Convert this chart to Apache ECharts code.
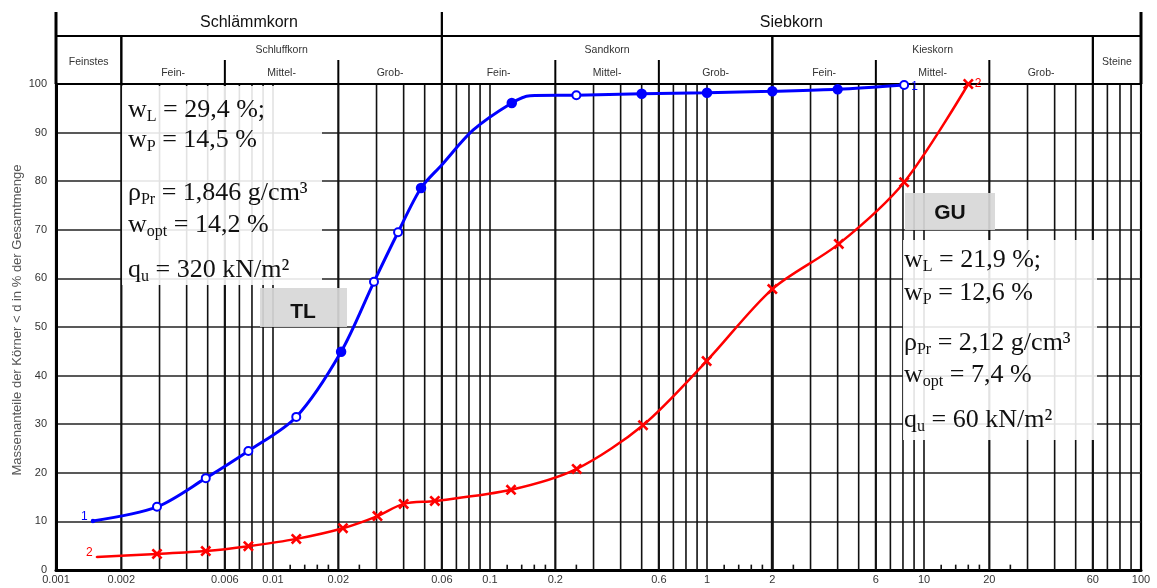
<!DOCTYPE html>
<html><head><meta charset="utf-8">
<script src="https://cdn.jsdelivr.net/npm/echarts@6/dist/echarts.min.js"></script>
<style>html,body{margin:0;padding:0;background:#fff}#c{width:1157px;height:588px}</style>
</head><body><div id="c"></div>
<script>
// ---- data ----
const diameterTL = [0.00148, 0.00292, 0.0049, 0.0077, 0.0128, 0.0206, 0.0292, 0.0377, 0.0481, 0.0598, 0.0835, 0.126, 0.153, 0.25, 0.50, 1.0, 2.0, 4.0, 8.1];
const passingTL  = [10.1, 13.0, 18.9, 24.5, 31.5, 44.9, 59.3, 69.5, 78.6, 83.3, 90.5, 96.1, 97.6, 97.7, 98.0, 98.2, 98.5, 98.9, 99.8];
const measuredTL = [false, true, true, true, true, true, true, true, true, false, false, true, false, true, true, true, true, true, true];

const diameterGU = [0.00154, 0.00292, 0.0049, 0.0077, 0.0128, 0.021, 0.0303, 0.0400, 0.0557, 0.125, 0.251, 0.507, 0.996, 2.0, 4.05, 8.1, 16.0];
const passingGU  = [2.7, 3.3, 3.9, 4.9, 6.4, 8.6, 11.1, 13.6, 14.2, 16.5, 20.8, 29.8, 43.0, 57.8, 67.1, 79.8, 100];
const measuredGU = [false, true, true, true, true, true, true, true, true, true, true, true, true, true, true, true, true];

const xLabelValues = [0.001, 0.002, 0.006, 0.01, 0.02, 0.06, 0.1, 0.2, 0.6, 1, 2, 6, 10, 20, 60, 100];
const xLabelTexts  = ['0.001','0.002','0.006','0.01','0.02','0.06','0.1','0.2','0.6','1','2','6','10','20','60','100'];

const gridDecades = [0.001, 0.01, 0.1, 1, 10];
const gridMultipliers = [2, 3, 4, 5, 6, 7, 8, 9, 10];
const tickDecades = [0.01, 0.1, 1, 10];
const tickMultipliers = [1.2, 1.4, 1.6, 1.8, 2.5];
const classBoundaries = [0.002, 0.006, 0.02, 0.06, 0.2, 0.6, 2, 6, 20, 60];

const headerTopNames = ['Schlämmkorn', 'Siebkorn'];
const headerTopBounds = [[0.001, 0.06], [0.06, 100]];
const headerGroupNames = ['Feinstes', 'Schluffkorn', 'Sandkorn', 'Kieskorn', 'Steine'];
const headerGroupBounds = [[0.001, 0.002], [0.002, 0.06], [0.06, 2], [2, 60], [60, 100]];
const headerSubNames = ['Fein-', 'Mittel-', 'Grob-', 'Fein-', 'Mittel-', 'Grob-', 'Fein-', 'Mittel-', 'Grob-'];
const headerSubBounds = [[0.002, 0.006], [0.006, 0.02], [0.02, 0.06], [0.06, 0.2], [0.2, 0.6], [0.6, 2], [2, 6], [6, 20], [20, 60]];

const yAxisTitle = 'Massenanteile der Körner < d in % der Gesamtmenge';
const paramsTL = ['{m|w}{s|L}{m| = 29,4 %;}', '{m|w}{s|P}{m| = 14,5 %}', '{m|ρ}{s|Pr}{m| = 1,846 g/cm³}', '{m|w}{s|opt}{m| = 14,2 %}', '{m|q}{s|u}{m| = 320 kN/m²}'];
const paramsGU = ['{m|w}{s|L}{m| = 21,9 %;}', '{m|w}{s|P}{m| = 12,6 %}', '{m|ρ}{s|Pr}{m| = 2,12 g/cm³}', '{m|w}{s|opt}{m| = 7,4 %}', '{m|q}{s|u}{m| = 60 kN/m²}'];

// ---- build ----
const chart = echarts.init(document.getElementById('c'), null, {renderer: 'canvas'});
const XMIN = 0.001, XMAX = 100;

// vertical grid lines: [x, yTop, kind]  (kind 0 normal, 1 class boundary, 2 main boundary)
const vLineData = [];
gridDecades.forEach(d => gridMultipliers.forEach(m => {
  const v = +(d * m).toPrecision(6);
  if (v >= XMAX) return;
  const thick = classBoundaries.some(c => Math.abs(c - v) / v < 1e-6);
  vLineData.push([v, 100, v === 2 ? 2 : (thick ? 1 : 0)]);
}));
tickDecades.forEach(d => tickMultipliers.forEach(m => {
  vLineData.push([+(d * m).toPrecision(6), 1.1, 0]);
}));

const crossPath = 'path://M0,1.7 L1.7,0 L5,3.3 L8.3,0 L10,1.7 L6.7,5 L10,8.3 L8.3,10 L5,6.7 L1.7,10 L0,8.3 L3.3,5 Z';
const hollowTL = new Set([1, 2, 3, 4, 6, 7, 13, 18]);

function endLabel(text, color, pos, off) {
  return {show: true, formatter: text, position: pos, distance: 3, offset: off, color: color, fontSize: 12, fontFamily: 'Liberation Sans, Arial, sans-serif'};
}
const tlData = diameterTL.map((d, i) => {
  const item = {value: [d, passingTL[i]]};
  if (!measuredTL[i]) { item.symbol = (i === 0) ? 'circle' : 'none'; item.symbolSize = 2; }
  else if (hollowTL.has(i)) { item.symbol = 'emptyCircle'; item.symbolSize = 8; }
  if (i === 0) item.label = endLabel('1', '#0000ff', 'left', [0, -4]);
  if (i === diameterTL.length - 1) item.label = endLabel('1', '#0000ff', 'right', [-1, 2]);
  return item;
});
const guData = diameterGU.map((d, i) => {
  const item = {value: [d, passingGU[i]]};
  if (!measuredGU[i]) { item.symbol = (i === 0) ? 'circle' : 'none'; item.symbolSize = 2; }
  if (i === 0) item.label = endLabel('2', '#ff0000', 'left', [0, -4]);
  if (i === diameterGU.length - 1) item.label = endLabel('2', '#ff0000', 'right', [-2, 0]);
  return item;
});

function lw(x) { return (x <= XMIN * 1.0001 || x >= XMAX * 0.9999) ? 3 : 2; }
function headerSeries(names, bounds, kind) {
  return {
    type: 'custom', xAxisIndex: 1, yAxisIndex: 1, silent: true, animation: false, clip: false, z: 5,
    data: bounds.map((b, i) => ({value: [b[0], b[1]], name: names[i]})),
    encode: {x: [0, 1]},
    renderItem: function (params, api) {
      const i = params.dataIndex;
      const x1 = api.value(0), x2 = api.value(1);
      const children = [];
      const line = (xa, ya, xb, yb, w) => {
        const p = api.coord([xa, ya]), q = api.coord([xb, yb]);
        children.push({type: 'line', shape: {x1: p[0], y1: p[1], x2: q[0], y2: q[1]}, style: {stroke: '#000', lineWidth: w}});
      };
      const text = (ycoord, s, size, color) => {
        const p = api.coord([Math.sqrt(x1 * x2), ycoord]);
        children.push({type: 'text', x: p[0], y: p[1], style: {text: s, fontSize: size, fill: color, fontFamily: 'Liberation Sans, Arial, sans-serif', align: 'center', verticalAlign: 'middle'}});
      };
      if (kind === 'top') {
        line(x1, 72, x1, 48, lw(x1)); line(x2, 72, x2, 48, lw(x2)); line(x1, 48, x2, 48, 2);
        text(61, names[i], 16, '#111');
      } else if (kind === 'group') {
        line(x1, 48, x1, 0, lw(x1)); line(x2, 48, x2, 0, lw(x2)); line(x1, 0, x2, 0, 2.2);
        const single = (i === 0 || i === names.length - 1);
        text(single ? 22 : 34, names[i], 10.5, '#333');
      } else {
        if (i % 3 !== 0) line(x1, 0, x1, 24, 2);
        text(11, names[i], 10.5, '#333');
      }
      return {type: 'group', children: children};
    }
  };
}

const richStyle = {
  m: {fontFamily: 'Liberation Serif, Times New Roman, serif', fontSize: 26, lineHeight: 30, fill: '#111', color: '#111', verticalAlign: 'middle'},
  s: {fontFamily: 'Liberation Serif, Times New Roman, serif', fontSize: 16, lineHeight: 14, fill: '#111', color: '#111', verticalAlign: 'bottom'}
};
function paramTexts(list, x, ys) {
  return list.map((t, i) => ({type: 'text', x: x, y: ys[i], z: 52, silent: true,
    style: {text: t, rich: richStyle, align: 'left', verticalAlign: 'middle'}}));
}

const option = {
  animation: false,
  backgroundColor: '#fff',
  grid: [
    {left: 56, right: 16, top: 84, bottom: 18, show: true, borderColor: '#000', borderWidth: 2.2, backgroundColor: 'transparent'},
    {left: 56, right: 16, top: 12, height: 72, show: false}
  ],
  xAxis: [
    {type: 'log', logBase: 10, min: XMIN, max: XMAX, gridIndex: 0,
     axisLine: {show: true, lineStyle: {color: '#000', width: 3}}, axisTick: {show: false}, splitLine: {show: false},
     axisLabel: {show: true, customValues: xLabelValues, margin: 4, fontSize: 11, color: '#333', fontFamily: 'Liberation Sans, Arial, sans-serif',
       hideOverlap: false, showMinLabel: true, showMaxLabel: true,
       formatter: function (v) {
         let best = 0, bd = Infinity;
         xLabelValues.forEach((x, k) => { const dd = Math.abs(Math.log10(x) - Math.log10(v)); if (dd < bd) { bd = dd; best = k; } });
         return xLabelTexts[best];
       }}},
    {type: 'log', logBase: 10, min: XMIN, max: XMAX, gridIndex: 1, show: false}
  ],
  yAxis: [
    {type: 'value', min: 0, max: 100, interval: 10, gridIndex: 0,
     axisLine: {show: true, lineStyle: {color: '#000', width: 3}}, axisTick: {show: false},
     axisLabel: {margin: 9, fontSize: 11, color: '#333', fontFamily: 'Liberation Sans, Arial, sans-serif'},
     splitLine: {show: true, lineStyle: {color: '#222', width: 1.6}}},
    {type: 'value', min: 0, max: 72, gridIndex: 1, show: false}
  ],
  series: [
    {type: 'custom', name: 'grid', xAxisIndex: 0, yAxisIndex: 0, silent: true, animation: false, z: 1,
     data: vLineData, encode: {x: 0, y: 1},
     renderItem: function (params, api) {
       const x = api.value(0), top = api.value(1), kind = api.value(2);
       const p = api.coord([x, 0]), q = api.coord([x, top]);
       return {type: 'line', shape: {x1: p[0], y1: p[1], x2: q[0], y2: q[1]},
         style: {stroke: '#111', lineWidth: kind === 2 ? 3 : (kind === 1 ? 2.2 : 1.6)}};
     }},
    headerSeries(headerTopNames, headerTopBounds, 'top'),
    headerSeries(headerGroupNames, headerGroupBounds, 'group'),
    headerSeries(headerSubNames, headerSubBounds, 'sub'),
    {type: 'line', name: 'TL', xAxisIndex: 0, yAxisIndex: 0, data: tlData, smooth: 0.3, z: 60,
     symbol: 'circle', symbolSize: 8, showSymbol: true,
     lineStyle: {color: '#0000ff', width: 3}, itemStyle: {color: '#0000ff', borderColor: '#0000ff', borderWidth: 2.5}},
    {type: 'line', name: 'GU', xAxisIndex: 0, yAxisIndex: 0, data: guData, smooth: 0.3, z: 61,
     symbol: crossPath, symbolSize: 11, showSymbol: true,
     lineStyle: {color: '#ff0000', width: 2.5}, itemStyle: {color: '#ff0000'}}
  ],
  graphic: [
    {type: 'rect', z: 50, silent: true, shape: {x: 122, y: 86, width: 200, height: 199}, style: {fill: 'rgba(255,255,255,0.88)'}},
    {type: 'rect', z: 50, silent: true, shape: {x: 903, y: 240, width: 194, height: 200}, style: {fill: 'rgba(255,255,255,0.88)'}},
    {type: 'rect', z: 50, silent: true, shape: {x: 260, y: 288, width: 87, height: 39}, style: {fill: 'rgba(215,215,215,0.92)'}},
    {type: 'rect', z: 50, silent: true, shape: {x: 905, y: 193, width: 90, height: 37}, style: {fill: 'rgba(215,215,215,0.92)'}},
    {type: 'text', z: 52, silent: true, x: 303, y: 312, style: {text: 'TL', fontSize: 21, fontWeight: 'bold', fill: '#111', fontFamily: 'Liberation Sans, Arial, sans-serif', align: 'center', verticalAlign: 'middle'}},
    {type: 'text', z: 52, silent: true, x: 950, y: 213, style: {text: 'GU', fontSize: 21, fontWeight: 'bold', fill: '#111', fontFamily: 'Liberation Sans, Arial, sans-serif', align: 'center', verticalAlign: 'middle'}},
    {type: 'text', z: 52, silent: true, x: 17, y: 320, rotation: Math.PI / 2, style: {text: yAxisTitle, fontSize: 13, fill: '#555', fontFamily: 'Liberation Sans, Arial, sans-serif', align: 'center', verticalAlign: 'middle'}}
  ].concat(paramTexts(paramsTL, 128, [110, 140, 193, 225, 270]))
   .concat(paramTexts(paramsGU, 904, [260, 293, 343, 375, 420]))
};
chart.setOption(option);
</script>
</body></html>
